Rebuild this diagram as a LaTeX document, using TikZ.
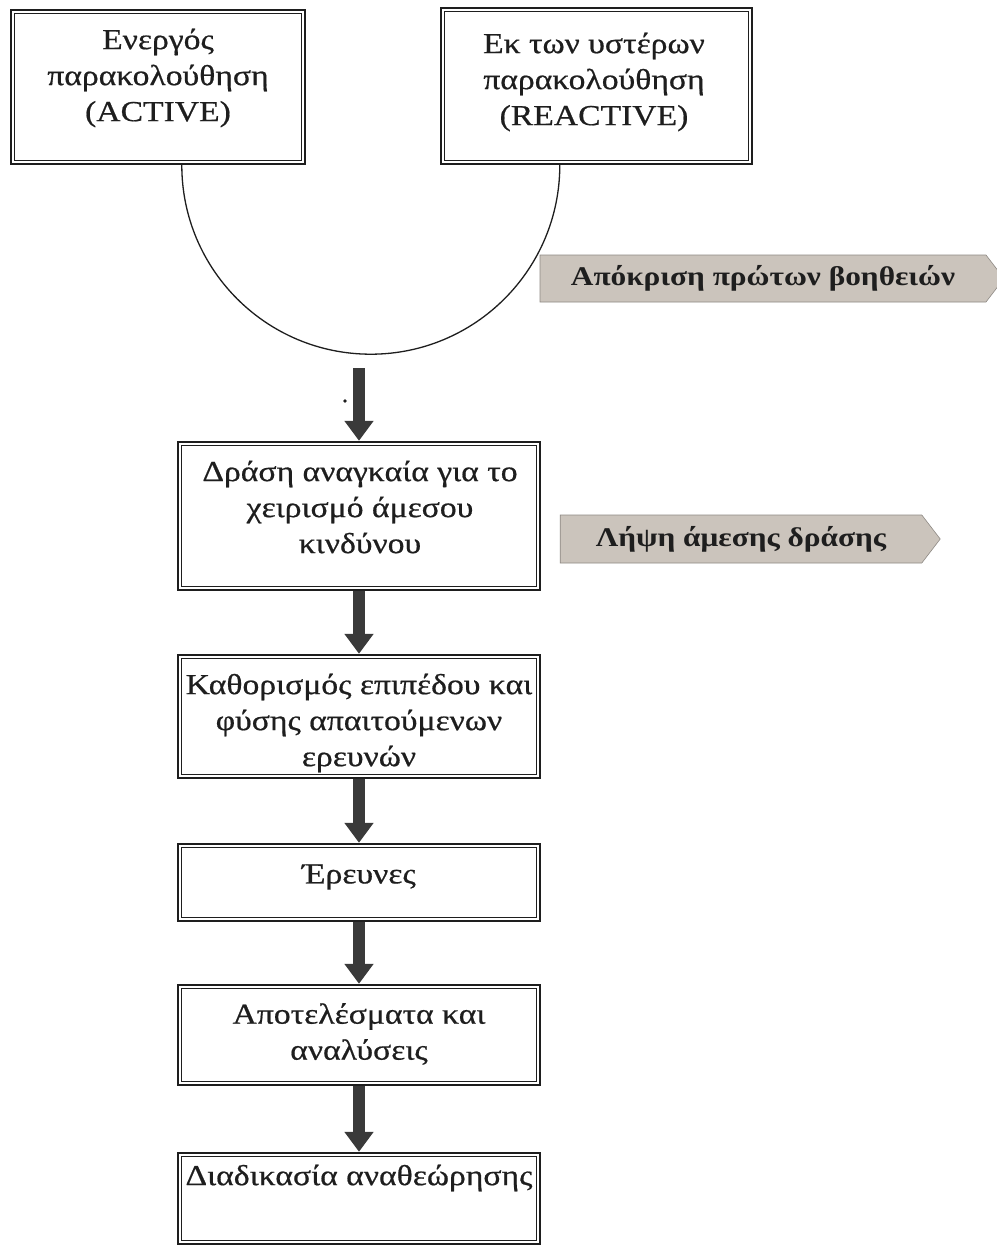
\documentclass[tikz,border=0pt]{standalone}
\usepackage{fontspec}
\setmainfont[FakeStretch=1.16]{Liberation Serif}
\newfontfamily\boxfont[FakeStretch=1.16,FakeBold=0.6]{Liberation Serif}
\usetikzlibrary{arrows.meta,shapes.symbols,calc}
\definecolor{ink}{HTML}{1E1E1E}
\definecolor{arrowgray}{HTML}{3A3A3A}
\definecolor{tagfill}{HTML}{CBC4BC}
\begin{document}
\begin{tikzpicture}[x=1pt,y=-1pt,
  box/.style={draw=ink, line width=2.4pt, rectangle, inner sep=0pt},
  txt/.style={align=center, font=\boxfont\fontsize{29}{36}\selectfont, text=ink, inner sep=0pt},
  tag/.style={signal, signal to=east, signal pointer angle=105, fill=tagfill, draw=tagfill!70!black, line width=0.6pt, font=\bfseries\fontsize{27}{33}\selectfont, inner sep=0pt, text=ink},
  flow/.style={draw=arrowgray, line width=12pt, -{Triangle[width=28pt,length=20pt]}},
  innerline/.style={draw=ink, line width=1.2pt}]

\useasboundingbox[fill=white] (0,0) rectangle (996,1247);

% boxes
\node[box, minimum width=294pt, minimum height=154pt] (act) at (158,87) {};
\node[box, minimum width=311pt, minimum height=156pt] (react) at (596.5,86) {};
\node[box, minimum width=362pt, minimum height=148pt] (b1) at (359,516) {};
\node[box, minimum width=362pt, minimum height=123pt] (b2) at (359,716.5) {};
\node[box, minimum width=362pt, minimum height=77pt] (b3) at (359,882.5) {};
\node[box, minimum width=362pt, minimum height=100pt] (b4) at (359,1035) {};
\node[box, minimum width=362pt, minimum height=91pt] (b5) at (359,1198.5) {};

\foreach \n in {act,react,b1,b2,b3,b4,b5}
  \draw[innerline] ([shift={(5pt,5pt)}]\n.south west) rectangle ([shift={(-5pt,-5pt)}]\n.north east);

% texts
\node[txt] (tact) at (158,78) {Ενεργός\\παρακολούθηση\\(ACTIVE)};
\node[txt] (treact) at (594,82) {Εκ των υστέρων\\παρακολούθηση\\(REACTIVE)};
\node[txt] (t1) at (360,507) {Δράση αναγκαία για το\\χειρισμό άμεσου\\κινδύνου};
\node[txt] (t2) at (359,723) {Καθορισμός επιπέδου και\\φύσης απαιτούμενων\\ερευνών};
\node[txt] (t3) at (359,877) {Έρευνες};
\node[txt] (t4) at (359,1034) {Αποτελέσματα και\\αναλύσεις};
\node[txt] (t5) at (359,1178) {Διαδικασία αναθεώρησης};

% tags
\node[tag, minimum width=464pt, minimum height=47pt] (tag1) at (763,278.5) {Απόκριση πρώτων βοηθειών};
\node[tag, minimum width=380pt, minimum height=48pt] (tag2) at (741,539) {Λήψη άμεσης δράσης};

% arc joining the two monitoring boxes
\draw[ink, line width=1.3pt] ([xshift=120pt]react.south west) arc[start angle=0, end angle=180, radius=189];

% small dot
\fill[ink] (345,401) circle (1.8pt);

% flow arrows
\coordinate (start) at (359,368);
\draw[flow] (start) -- (b1.north);
\draw[flow] (b1.south) -- (b2.north);
\draw[flow] (b2.south) -- (b3.north);
\draw[flow] (b3.south) -- (b4.north);
\draw[flow] (b4.south) -- (b5.north);
\end{tikzpicture}
\end{document}
